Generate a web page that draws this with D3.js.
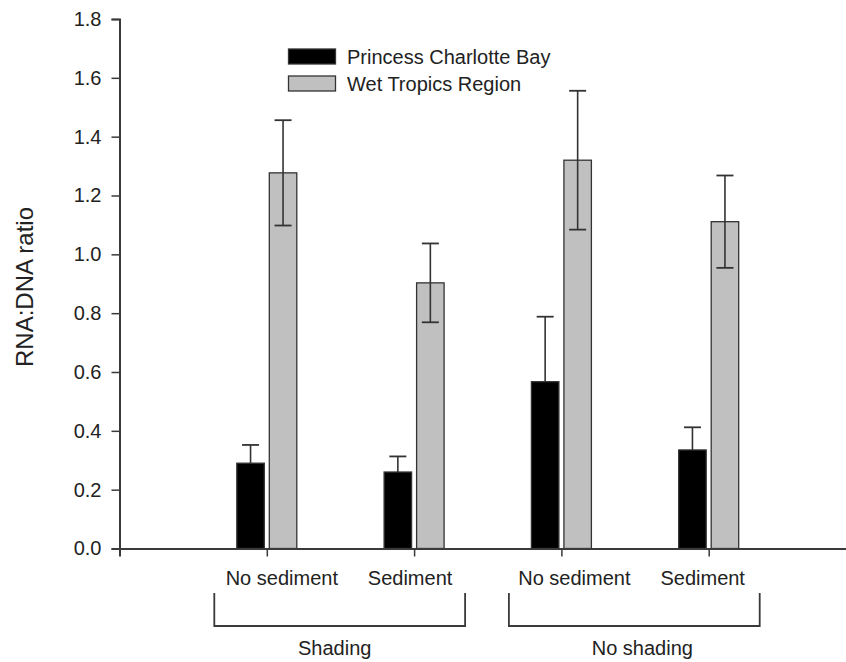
<!DOCTYPE html>
<html>
<head>
<meta charset="utf-8">
<script src="https://cdn.jsdelivr.net/npm/d3@7"></script>
<style>
  html, body { margin: 0; padding: 0; background: #fff; }
  svg { display: block; }
  text { font-family: "Liberation Sans", Arial, Helvetica, sans-serif; fill: #222; }
</style>
</head>
<body>
<svg id="chart" width="846" height="662"></svg>
<script>
// Treatment conditions (x positions 1..4)
const conditions = ["No sediment", "Sediment", "No sediment", "Sediment"];
const shadingGroups = ["Shading", "No shading"];
const seriesNames = ["Princess Charlotte Bay", "Wet Tropics Region"];

// Mean RNA:DNA ratio and standard error per condition
const pcbMean = [0.29, 0.26, 0.567, 0.335];
const pcbErr  = [0.062, 0.053, 0.221, 0.077];
const wtrMean = [1.277, 0.903, 1.32, 1.111];
const wtrErr  = [0.179, 0.134, 0.236, 0.157];

const yTicks = [0, 0.2, 0.4, 0.6, 0.8, 1.0, 1.2, 1.4, 1.6, 1.8];

const svg = d3.select("#chart");
const axisColor = "#3a3a3a";

const x = d3.scaleLinear().domain([0, 5]).range([119.5, 856]);
const y = d3.scaleLinear().domain([0, 1.8]).range([548.5, 19]);

const barW = 27.5, gap = 2.5;

const series = [
  { name: seriesNames[0], mean: pcbMean, err: pcbErr, fill: "#000000", side: -1, both: false },
  { name: seriesNames[1], mean: wtrMean, err: wtrErr, fill: "#c0c0c0", side: 1, both: true }
];

// Bars
series.forEach(s => {
  const g = svg.append("g");
  g.selectAll("rect")
    .data(s.mean)
    .join("rect")
    .attr("x", (d, i) => s.side < 0 ? x(i + 1) - gap - barW : x(i + 1) + gap)
    .attr("y", d => y(d))
    .attr("width", barW)
    .attr("height", d => y(0) - y(d))
    .attr("fill", s.fill)
    .attr("stroke", "#333")
    .attr("stroke-width", 1.3);

  // Error bars
  const cx = i => x(i + 1) + s.side * (gap + barW / 2);
  const eb = g.selectAll("g.err")
    .data(s.mean.map((m, i) => ({ m, e: s.err[i], i })))
    .join("g").attr("class", "err");
  eb.append("line")
    .attr("x1", d => cx(d.i)).attr("x2", d => cx(d.i))
    .attr("y1", d => y(s.both ? d.m - d.e : d.m))
    .attr("y2", d => y(d.m + d.e))
    .attr("stroke", "#333").attr("stroke-width", 1.6);
  eb.append("line")
    .attr("x1", d => cx(d.i) - 8.5).attr("x2", d => cx(d.i) + 8.5)
    .attr("y1", d => y(d.m + d.e)).attr("y2", d => y(d.m + d.e))
    .attr("stroke", "#333").attr("stroke-width", 1.8);
  if (s.both) {
    eb.append("line")
      .attr("x1", d => cx(d.i) - 8.5).attr("x2", d => cx(d.i) + 8.5)
      .attr("y1", d => y(d.m - d.e)).attr("y2", d => y(d.m - d.e))
      .attr("stroke", "#333").attr("stroke-width", 1.8);
  }
});

// Y axis
const yAxis = svg.append("g")
  .attr("transform", `translate(${x(0)},0)`)
  .call(d3.axisLeft(y).tickValues(yTicks).tickFormat(d3.format(".1f")).tickSizeOuter(0).tickSize(8).tickPadding(10));
yAxis.select(".domain").attr("stroke", axisColor).attr("stroke-width", 2);
yAxis.selectAll(".tick line").attr("stroke", axisColor).attr("stroke-width", 1.5);
yAxis.selectAll(".tick text")
  .attr("font-size", 20)
  .attr("font-family", "Liberation Sans, Arial, sans-serif")
  .attr("fill", "#222");

// X axis baseline with ticks at each condition
const xAxis = svg.append("g")
  .attr("transform", `translate(0,${y(0)})`)
  .call(d3.axisBottom(x).tickValues([1, 2, 3, 4]).tickFormat("").tickSizeOuter(0).tickSize(8));
xAxis.select(".domain").attr("stroke", axisColor).attr("stroke-width", 2);
xAxis.selectAll(".tick line").attr("stroke", axisColor).attr("stroke-width", 1.5);

// Condition labels
const labelShift = [15, -4, 13, -6];
svg.append("g").selectAll("text")
  .data(conditions)
  .join("text")
  .attr("x", (d, i) => x(i + 1) + labelShift[i])
  .attr("y", 585)
  .attr("text-anchor", "middle")
  .attr("font-size", 20)
  .text(d => d);

// Group brackets
shadingGroups.forEach((name, k) => {
  const a = x(2 * k + 1) - 52.5, b = x(2 * k + 2) + 51;
  svg.append("path")
    .attr("d", `M${a},593 V626 H${b} V593`)
    .attr("fill", "none")
    .attr("stroke", axisColor)
    .attr("stroke-width", 1.8);
  svg.append("text")
    .attr("x", (a + b) / 2 + (k === 0 ? -5 : 8))
    .attr("y", 655)
    .attr("text-anchor", "middle")
    .attr("font-size", 20)
    .text(name);
});

// Y axis title
svg.append("text")
  .attr("transform", `translate(33,287) rotate(-90)`)
  .attr("text-anchor", "middle")
  .attr("font-size", 24)
  .text("RNA:DNA ratio");

// Legend
const legend = svg.append("g");
series.forEach((s, i) => {
  legend.append("rect")
    .attr("x", 288.5).attr("y", 49 + i * 27)
    .attr("width", 47).attr("height", 15)
    .attr("fill", s.fill)
    .attr("stroke", "#333").attr("stroke-width", 1.3);
  legend.append("text")
    .attr("x", 347).attr("y", 64 + i * 26.5)
    .attr("font-size", 20)
    .text(s.name);
});
</script>
</body>
</html>
